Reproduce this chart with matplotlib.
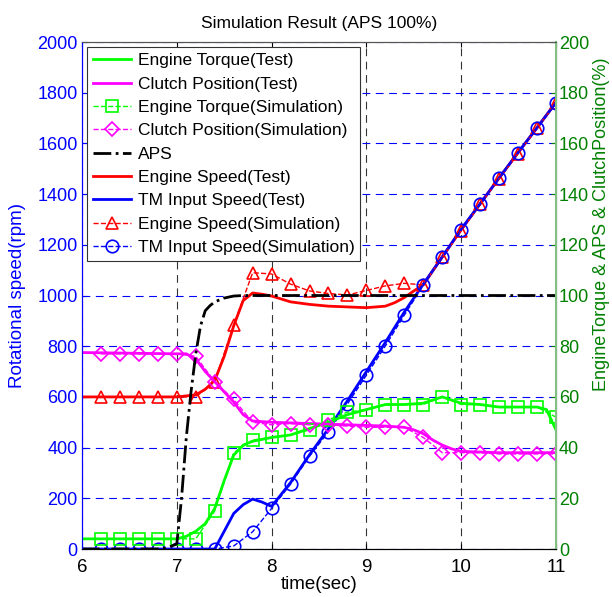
import matplotlib
matplotlib.use("Agg")
import matplotlib.pyplot as plt

plt.rcParams['font.family'] = ['Liberation Sans', 'DejaVu Sans']

# simulation samples (every 0.2 s)
t_sim = [6.2, 6.4, 6.6, 6.8, 7.0, 7.2, 7.4, 7.6, 7.8, 8.0, 8.2, 8.4, 8.6,
         8.8, 9.0, 9.2, 9.4, 9.6, 9.8, 10.0, 10.2, 10.4, 10.6, 10.8, 11.0]
torque_sim = [4, 4, 4, 4, 4, 4, 15, 38, 43, 44, 45, 47, 51,
              54, 55, 57, 57, 57, 60, 57, 57, 56, 56, 56, 52]
clutch_sim = [77, 77, 77, 77, 77, 76, 66, 59, 50, 49, 49.5, 49, 49,
              48.5, 48, 48, 48, 44, 38, 38, 38, 37.5, 37.5, 37.5, 37.5]
engine_sim = [600, 600, 600, 600, 600, 600, 660, 884, 1090, 1085, 1045, 1018, 1008,
              1002, 1020, 1038, 1048, 1042, 1150, 1255, 1360, 1460, 1560, 1660, 1760]
tm_sim = [0, 0, 0, 0, 0, 0, 0, 12, 68, 160, 256, 366, 463,
          572, 686, 801, 923, 1040, 1150, 1258, 1360, 1462, 1562, 1660, 1758]

# test measurements
t_torque = [6.0, 7.0, 7.1, 7.2, 7.3, 7.4, 7.5, 7.6, 7.7, 7.8, 8.0, 8.2, 8.4, 8.6,
            8.8, 9.0, 9.2, 9.4, 9.6, 9.8, 10.0, 10.2, 10.4, 10.6, 10.8, 10.9, 11.0]
torque_test = [4, 4, 5, 7, 10, 16, 27, 37, 41, 42.5, 44, 45, 47.5, 50,
               53, 55, 57, 57, 57.5, 60, 57.5, 57, 56, 56, 56, 55, 47]
t_clutch = [6.0, 7.0, 7.1, 7.2, 7.3, 7.4, 7.5, 7.6, 7.7, 7.8, 8.0, 8.4, 8.8, 9.2,
            9.4, 9.5, 9.6, 9.7, 9.8, 9.9, 10.0, 10.4, 11.0]
clutch_test = [77.5, 77, 77, 75, 70, 66, 62, 58, 53, 50.5, 50, 49.5, 49, 48.5,
               48, 47, 45.5, 43, 41, 39.5, 38.5, 38, 38]
t_aps = [6.0, 6.8, 6.9, 7.0, 7.05, 7.1, 7.15, 7.2, 7.25, 7.3, 7.35, 7.4, 7.5, 7.6, 7.7, 11.0]
aps = [0, 0, 0.5, 2, 20, 44, 62, 77, 88, 94, 96, 97.5, 99, 99.8, 100, 100]
t_engine = [6.0, 7.0, 7.2, 7.3, 7.4, 7.5, 7.6, 7.7, 7.8, 7.9, 8.0, 8.2, 8.4, 8.6,
            8.8, 9.0, 9.2, 9.3, 9.4, 9.5, 9.6, 9.8, 10.0, 10.2, 10.4, 10.6, 10.8, 11.0]
engine_test = [600, 600, 608, 630, 665, 760, 880, 980, 1010, 1005, 998, 975, 965, 958,
               955, 952, 958, 972, 992, 1018, 1042, 1152, 1260, 1362, 1464, 1564, 1662, 1762]
t_tm = [6.0, 7.4, 7.5, 7.6, 7.7, 7.8, 7.9, 8.0, 8.2, 8.4, 8.6, 8.8, 9.0, 9.2, 9.4,
        9.6, 9.8, 10.0, 10.2, 10.4, 10.6, 10.8, 11.0]
tm_test = [0, 0, 70, 140, 175, 197, 185, 168, 262, 372, 475, 585, 700, 815, 935,
           1045, 1152, 1262, 1362, 1464, 1564, 1662, 1762]

fig = plt.figure(figsize=(6.12, 5.97), dpi=100)
ax = fig.add_axes([0.134, 0.0804, 0.7745, 0.8492])
ax2 = ax.twinx()

# speeds on the left axis
h_eng, = ax.plot(t_engine, engine_test, color='#ff0000', lw=2, label='Engine Speed(Test)')
h_tm, = ax.plot(t_tm, tm_test, color='#0000ff', lw=2, label='TM Input Speed(Test)')
h_eng_s, = ax.plot(t_sim, engine_sim, color='#ff0000', ls='--', lw=1, marker='^', ms=9,
                   mfc='none', mew=1.2, label='Engine Speed(Simulation)')
h_tm_s, = ax.plot(t_sim, tm_sim, color='#0000ff', ls='--', lw=1, marker='o', ms=9,
                  mfc='none', mew=1.2, label='TM Input Speed(Simulation)')

# torque, clutch and pedal on the right axis
h_tq, = ax2.plot(t_torque, torque_test, color='#00ff00', lw=2, label='Engine Torque(Test)')
h_cl, = ax2.plot(t_clutch, clutch_test, color='#ff00ff', lw=2, label='Clutch Position(Test)')
h_tq_s, = ax2.plot(t_sim, torque_sim, color='#00ff00', ls='--', lw=1, marker='s', ms=8,
                   mfc='none', mew=1.2, label='Engine Torque(Simulation)')
h_cl_s, = ax2.plot(t_sim, clutch_sim, color='#ff00ff', ls='--', lw=1, marker='D', ms=7,
                   mfc='none', mew=1.2, label='Clutch Position(Simulation)')
h_aps, = ax2.plot(t_aps, aps, color='black', ls='-.', lw=2, label='APS')

ax.set_xlim(6, 11)
ax.set_ylim(0, 2000)
ax2.set_ylim(0, 200)
ax.set_xticks([6, 7, 8, 9, 10, 11])
ax.set_yticks(range(0, 2001, 200))
ax2.set_yticks(range(0, 201, 20))

# grid: blue dashed rows, black dashed columns
ax.grid(axis='y', color='#0000ff', ls=(0, (7, 5)), lw=0.8)
ax.grid(axis='x', color='black', ls=(0, (7, 5)), lw=0.8, alpha=0.8)

ax.tick_params(axis='x', direction='in', top=True, labelsize=13.5, colors='black', pad=7)
ax.tick_params(axis='y', direction='in', labelsize=13, colors='#0000ff', pad=3)
ax2.tick_params(axis='y', direction='in', labelsize=13, colors='#008000', pad=2)

ax.spines['left'].set_color('#0000ff')
ax2.spines['left'].set_color('#0000ff')
ax2.spines['right'].set_color('#80c080')
ax2.spines['right'].set_linewidth(1.5)
ax.spines['top'].set_color('#555555')
ax2.spines['top'].set_color('#555555')

ax.set_xlabel('time(sec)', fontsize=13.5, labelpad=0)
ax.set_ylabel('Rotational speed(rpm)', fontsize=13.5, color='#0000ff')
ax.yaxis.set_label_coords(-0.118, 0.5)
ax2.set_ylabel('EngineTorque & APS & ClutchPosition(%)', fontsize=13, color='#008000')
ax2.yaxis.set_label_coords(1.078, 0.64)
ax.set_title('Simulation Result (APS 100%)', fontsize=12.5, pad=10)

handles = [h_tq, h_cl, h_tq_s, h_cl_s, h_aps, h_eng, h_tm, h_eng_s, h_tm_s]
leg = ax2.legend(handles=handles, loc='upper left', fontsize=12.5, fancybox=False,
                 framealpha=1, edgecolor='#333333', borderaxespad=0.3,
                 handlelength=2.2, handletextpad=0.35, labelspacing=0.47, borderpad=0.35)
leg.get_frame().set_linewidth(0.8)

fig.savefig('out.png', dpi=100)
